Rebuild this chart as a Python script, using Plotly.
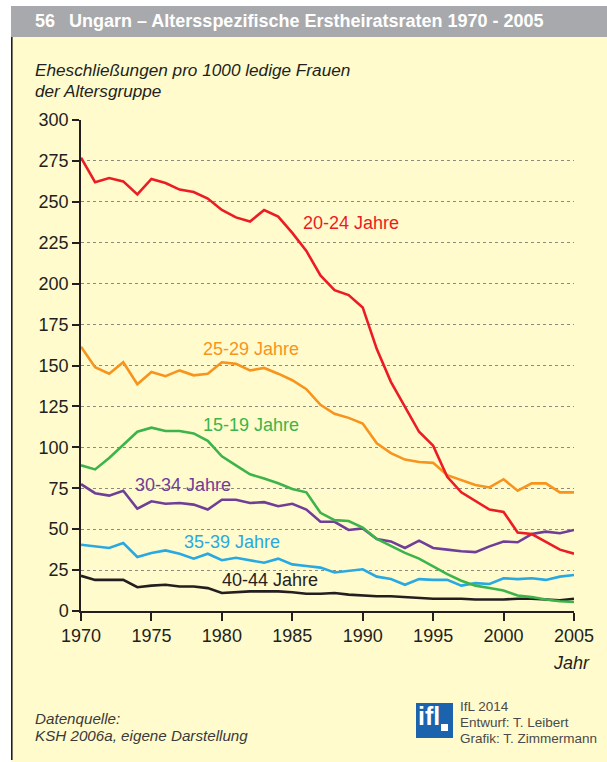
import plotly.graph_objects as go

# Age-specific first-marriage rates of women in Hungary, 1970-2005
years = list(range(1970, 2006))

rate_20_24 = [277, 262, 264.5, 262.5, 254.5, 264, 261.5, 257.5, 256, 252,
              245, 240.5, 238, 245, 241, 231, 220, 205, 196, 193,
              185.5, 160, 140, 125, 109.5, 101, 82, 72.5, 67, 62,
              60.5, 48, 47, 42.5, 37.5, 35]
rate_25_29 = [161.5, 149, 145, 152, 138.5, 146, 143.5, 147, 144, 145,
              152, 151, 147, 148.5, 145, 141, 135.5, 126, 120.5, 118,
              114.5, 102.5, 96.5, 92.5, 91, 90.5, 83, 80, 77, 75.5,
              80.5, 73.5, 78, 78, 72.5, 72.5]
rate_15_19 = [89, 86.5, 93.5, 101.5, 109.5, 112, 110, 110, 108.5, 104,
              94.5, 89, 83.5, 81, 78, 74.5, 72.5, 60, 55.5, 55,
              51, 44, 39.5, 35.5, 32, 27, 22.5, 18.5, 15.5, 14,
              12.5, 9.5, 8.5, 7, 6, 5.5]
rate_30_34 = [77.5, 72, 70.5, 73.5, 62.5, 67, 65.5, 66, 65, 62,
              68, 68, 66, 66.5, 64, 65.5, 62, 54.5, 54.5, 49.5,
              50.5, 44, 42.5, 38.5, 43, 38.5, 37.5, 36.5, 36, 39.5,
              42.5, 42, 47, 48.5, 47.5, 49.5]
rate_35_39 = [40.5, 39.5, 38.5, 41.5, 33, 35.5, 37, 35, 32, 35,
              31, 32.5, 31, 29.5, 32, 28.5, 27.5, 26.5, 23.5, 24.5,
              25.5, 21, 19.5, 16, 19.5, 19, 19, 15.5, 17, 16.5,
              20, 19.5, 20, 19, 21, 22]
rate_40_44 = [21.5, 19, 19, 19, 14.5, 15.5, 16, 15, 15, 14,
              11, 11.5, 12, 12, 12, 11.5, 10.5, 10.5, 11, 10,
              9.5, 9, 9, 8.5, 8, 7.5, 7.5, 7.5, 7, 7,
              7, 7.5, 7.5, 7, 6.5, 7.5]

x_ticks = [1970, 1975, 1980, 1985, 1990, 1995, 2000, 2005]
y_ticks = [0, 25, 50, 75, 100, 125, 150, 175, 200, 225, 250, 275, 300]

series = [
    ("40-44 Jahre", rate_40_44, "#231f20", 1979.9, 18.9),
    ("35-39 Jahre", rate_35_39, "#29a9e1", 1977.2, 42.2),
    ("30-34 Jahre", rate_30_34, "#6f3f98", 1973.7, 77.0),
    ("15-19 Jahre", rate_15_19, "#3cb44b", 1978.5, 113.6),
    ("25-29 Jahre", rate_25_29, "#f7941e", 1978.5, 160.0),
    ("20-24 Jahre", rate_20_24, "#ec1c24", 1985.6, 237.0),
]

W, H = 607, 762
L, R, T, B = 81, 574, 120, 611
BG = "#fffbcc"
FONT = "Liberation Sans, Arial, sans-serif"
TEXT = "#231f20"


def px(x):
    return (x - L) / (R - L)


def py(y):
    return (B - y) / (B - T)


def note(x, y, text, size, color=TEXT, anchor="left", family=FONT):
    return dict(x=px(x), y=py(y), xref="paper", yref="paper", text=text,
                showarrow=False, xanchor=anchor, yanchor="middle",
                font=dict(family=family, size=size, color=color))


fig = go.Figure()
annotations = []

for name, vals, color, lx, ly in series:
    fig.add_trace(go.Scatter(x=years, y=vals, mode="lines", name=name,
                             line=dict(color=color, width=2.6),
                             showlegend=False, hoverinfo="skip"))
    annotations.append(dict(x=lx, y=ly, xref="x", yref="y", text=name,
                            showarrow=False, xanchor="left", yanchor="middle",
                            font=dict(family=FONT, size=18, color=color)))

shapes = [
    # white margins around the panel
    dict(type="rect", xref="paper", yref="paper", x0=px(0), x1=px(W),
         y0=py(0), y1=py(6), fillcolor="white", line_width=0, layer="below"),
    dict(type="rect", xref="paper", yref="paper", x0=px(0), x1=px(11),
         y0=py(0), y1=py(H), fillcolor="white", line_width=0, layer="below"),
    # header bar
    dict(type="rect", xref="paper", yref="paper", x0=px(11), x1=px(W),
         y0=py(37), y1=py(6), fillcolor="#a7a9ac", line_width=0, layer="below"),
    # left border line
    dict(type="line", xref="paper", yref="paper", x0=px(11.8), x1=px(11.8),
         y0=py(37), y1=py(760), line=dict(color=TEXT, width=1.6)),
    # logo
    dict(type="rect", xref="paper", yref="paper", x0=px(416), x1=px(453),
         y0=py(738), y1=py(703), fillcolor="#1c63ad", line_width=0),
    dict(type="rect", xref="paper", yref="paper", x0=px(441), x1=px(448),
         y0=py(731), y1=py(724), fillcolor="white", line_width=0),
]

annotations += [
    note(33, 21, "<b>56</b>", 18, "white"),
    note(67, 21, "<b>Ungarn – Altersspezifische Erstheiratsraten 1970 - 2005</b>",
         18, "white"),
    note(33, 70, "<i>Eheschließungen pro 1000 ledige Frauen</i>", 17.2),
    note(33, 91, "<i>der Altersgruppe</i>", 17.2),
    note(592, 663, "<i>Jahr</i>", 18, anchor="right"),
    note(33, 718, "<i>Datenquelle:</i>", 15.2, "#3a3a3a"),
    note(33, 735, "<i>KSH 2006a, eigene Darstellung</i>", 15.2, "#3a3a3a"),
    note(458, 706, "IfL 2014", 13.5, "#4a4a4a"),
    note(458, 722, "Entwurf: T. Leibert", 13.5, "#4a4a4a"),
    note(458, 738, "Grafik: T. Zimmermann", 13.5, "#4a4a4a"),
    note(416, 716, "<b>ifl</b>", 25, "white"),
]

fig.update_layout(
    width=W, height=H,
    margin=dict(l=L, r=W - R, t=T, b=H - B, pad=0),
    paper_bgcolor=BG, plot_bgcolor=BG,
    shapes=shapes, annotations=annotations,
    font=dict(family=FONT, color=TEXT),
)

fig.update_xaxes(
    range=[1970, 2005], tickvals=x_ticks, ticktext=[str(v) for v in x_ticks],
    showgrid=False, zeroline=False, showline=True, linecolor=TEXT,
    linewidth=1.5, ticks="outside", ticklen=8, tickwidth=1.5,
    tickcolor=TEXT, tickfont=dict(size=18, color=TEXT),
    fixedrange=True,
)
fig.update_yaxes(
    range=[0, 300], tickvals=y_ticks, ticktext=[str(v) for v in y_ticks],
    showgrid=True, gridcolor="#8a8a80", griddash="dot", gridwidth=1,
    zeroline=False, showline=True, linecolor=TEXT, linewidth=1.5,
    ticks="outside", ticklen=7, tickwidth=1.5, tickcolor=TEXT,
    tickfont=dict(size=18, color=TEXT), fixedrange=True,
)

fig.write_html("out.html")
